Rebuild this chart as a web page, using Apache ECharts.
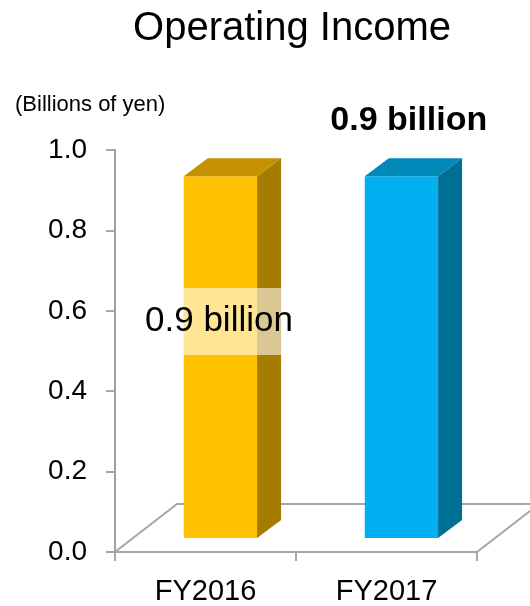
<!DOCTYPE html>
<html>
<head>
<meta charset="utf-8">
<script src="https://cdn.jsdelivr.net/npm/echarts@6/dist/echarts.min.js"></script>
<style>
html,body{margin:0;padding:0;background:#fff;}
#chart{width:530px;height:606px;}
</style>
</head>
<body>
<div id="chart"></div>
<script>
// ---- data ----
const categories = ['FY2016', 'FY2017'];
const values = [0.9, 0.9];
const valueLabels = ['0.9 billion', '0.9 billion'];
const titleText = 'Operating Income';
const unitText = '(Billions of yen)';

// ---- styles ----
const FONT = '"Liberation Sans", Arial, Helvetica, sans-serif';
const palette = [
  { front: '#FFC000', side: '#A67C00', top: '#C49100' },
  { front: '#00B0F0', side: '#006F96', top: '#0088B8' }
];
const DEPTH_X = 24, DEPTH_Y = 18, LIFT = 14;
const FLOOR_X = 62, FLOOR_Y = 48;

const chart = echarts.init(document.getElementById('chart'), null, { renderer: 'canvas' });

function txt(o) {
  return Object.assign({ fontFamily: FONT, fill: '#000' }, o, {
    textAlign: o.align, textVerticalAlign: o.verticalAlign
  });
}

const option = {
  animation: false,
  backgroundColor: '#fff',
  grid: { left: 115, right: 53, top: 150, bottom: 54, containLabel: false },
  xAxis: {
    type: 'category',
    data: categories,
    axisLine: { show: true, lineStyle: { color: '#a6a6a6', width: 2 } },
    axisTick: { show: true, length: 9, lineStyle: { color: '#a6a6a6', width: 2 } },
    axisLabel: { fontSize: 29, color: '#000', fontFamily: FONT, margin: 25 },
    splitLine: { show: false }
  },
  yAxis: {
    type: 'value',
    min: 0, max: 1, interval: 0.2,
    axisLine: { show: true, lineStyle: { color: '#a0a0a0', width: 2 } },
    axisTick: { show: true, length: 9, lineStyle: { color: '#a6a6a6', width: 2 } },
    axisLabel: { fontSize: 28, color: '#000', fontFamily: FONT, margin: 28,
      formatter: v => v.toFixed(1) },
    splitLine: { show: false }
  },
  graphic: [
    { type: 'text', x: 292, y: 29, style: txt({ text: titleText, fontSize: 40, align: 'center', verticalAlign: 'middle' }) },
    { type: 'text', x: 15, y: 105, style: txt({ text: unitText, fontSize: 22, align: 'left', verticalAlign: 'middle' }) }
  ],
  series: [
    {
      type: 'custom',
      z: 1,
      data: [[0, 0]],
      silent: true,
      renderItem: function (params, api) {
        const cs = params.coordSys;
        const x = cs.x, y = cs.y + cs.height, w = cs.width;
        const st = { stroke: '#a6a6a6', lineWidth: 2, fill: null };
        return {
          type: 'group',
          children: [
            { type: 'polyline', shape: { points: [[x, y], [x + FLOOR_X, y - FLOOR_Y], [x + w + FLOOR_X, y - FLOOR_Y]] }, style: st },
            { type: 'line', shape: { x1: x + w, y1: y, x2: x + w + FLOOR_X, y2: y - FLOOR_Y }, style: st }
          ]
        };
      }
    },
    {
      type: 'custom',
      z: 2,
      clip: false,
      data: values.map((v, i) => [i, v]),
      encode: { x: 0, y: 1 },
      renderItem: function (params, api) {
        const i = api.value(0), v = api.value(1);
        const base = api.coord([i, 0]);
        const top = api.coord([i, v]);
        const band = api.size([1, 0])[0];
        const x0 = base[0] - band * 0.12;
        const w = band * 0.405;
        const yb = base[1] - LIFT;
        const yt = top[1] - LIFT;
        const c = palette[i];
        const children = [
          { type: 'rect', shape: { x: x0, y: yt, width: w, height: yb - yt }, style: { fill: c.front } },
          { type: 'polygon', shape: { points: [[x0 + w, yt], [x0 + w + DEPTH_X, yt - DEPTH_Y], [x0 + w + DEPTH_X, yb - DEPTH_Y], [x0 + w, yb]] }, style: { fill: c.side } },
          { type: 'polygon', shape: { points: [[x0, yt], [x0 + DEPTH_X, yt - DEPTH_Y], [x0 + w + DEPTH_X, yt - DEPTH_Y], [x0 + w, yt]] }, style: { fill: c.top } }
        ];
        if (i === 0) {
          const lc = api.coord([i, 0.577])[1];
          children.push({ type: 'rect', shape: { x: x0, y: lc - 32, width: w + DEPTH_X, height: 67 }, style: { fill: 'rgba(255,255,255,0.58)' } });
          children.push({ type: 'text', x: x0 + w * 0.48, y: lc + 1, style: txt({ text: valueLabels[i], fontSize: 35, align: 'center', verticalAlign: 'middle' }) });
        } else {
          children.push({ type: 'text', x: x0 + w * 0.6, y: yt - DEPTH_Y - 38, style: txt({ text: valueLabels[i], fontSize: 34, fontWeight: 'bold', align: 'center', verticalAlign: 'middle' }) });
        }
        return { type: 'group', children: children };
      }
    }
  ]
};
chart.setOption(option);
</script>
</body>
</html>
